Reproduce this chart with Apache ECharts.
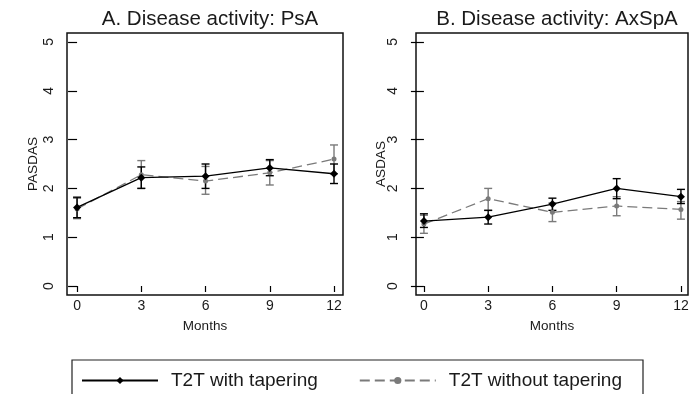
<!DOCTYPE html>
<html>
<head>
<meta charset="utf-8">
<script src="https://cdn.jsdelivr.net/npm/echarts@6/dist/echarts.min.js"></script>
<style>
  html, body { margin: 0; padding: 0; background: #fff; }
  #chart { width: 692px; height: 394px; }
</style>
</head>
<body>
<div id="chart"></div>
<script>
// Follow-up visits (months)
const months = [0, 3, 6, 9, 12];
const xTicks = [0, 3, 6, 9, 12];
const yTicks = [0, 1, 2, 3, 4, 5];

// Panel A: PASDAS (PsA)
const psaWith      = [1.61, 2.22, 2.25, 2.42, 2.30];
const psaWithLo    = [1.40, 2.00, 2.00, 2.26, 2.10];
const psaWithHi    = [1.82, 2.44, 2.50, 2.59, 2.50];
const psaWithout   = [1.58, 2.28, 2.15, 2.32, 2.60];
const psaWithoutLo = [1.38, 2.00, 1.88, 2.07, 2.30];
const psaWithoutHi = [1.80, 2.57, 2.45, 2.57, 2.89];

// Panel B: ASDAS (AxSpA)
const axWith      = [1.33, 1.41, 1.68, 2.00, 1.83];
const axWithLo    = [1.20, 1.27, 1.55, 1.79, 1.69];
const axWithHi    = [1.48, 1.55, 1.80, 2.20, 1.98];
const axWithout   = [1.27, 1.79, 1.51, 1.64, 1.57];
const axWithoutLo = [1.08, 1.55, 1.32, 1.44, 1.37];
const axWithoutHi = [1.45, 2.00, 1.70, 1.83, 1.73];

const seriesNames = ['T2T with tapering', 'T2T without tapering'];
const titles = ['A. Disease activity: PsA', 'B. Disease activity: AxSpA'];
const yNames = ['PASDAS', 'ASDAS'];
const xName = 'Months';

const FONT = '"Liberation Sans", Arial, sans-serif';
const TXT = '#1a1a1a';
const BLACK = '#000000';
const GREY = '#7a7a7a';

function pairs(y) { return months.map((m, i) => [m, y[i]]); }
function bars(lo, hi) { return months.map((m, i) => [m, lo[i], hi[i]]); }

// Vertical error bar with caps, positioned via the axis scales
function errorBarSeries(idx, data, color, z) {
  return {
    type: 'custom',
    xAxisIndex: idx, yAxisIndex: idx,
    z: z,
    silent: true,
    data: data,
    encode: { x: 0, y: [1, 2] },
    renderItem: function (params, api) {
      const x = api.value(0);
      const lo = api.coord([x, api.value(1)]);
      const hi = api.coord([x, api.value(2)]);
      const hw = 4;
      const st = { stroke: color, lineWidth: 1.4, fill: null };
      return {
        type: 'group',
        children: [
          { type: 'line', shape: { x1: lo[0], y1: lo[1], x2: hi[0], y2: hi[1] }, style: st },
          { type: 'line', shape: { x1: lo[0] - hw, y1: lo[1], x2: lo[0] + hw, y2: lo[1] }, style: st },
          { type: 'line', shape: { x1: hi[0] - hw, y1: hi[1], x2: hi[0] + hw, y2: hi[1] }, style: st }
        ]
      };
    }
  };
}

function lineWith(idx, y) {
  return {
    name: seriesNames[0], type: 'line', xAxisIndex: idx, yAxisIndex: idx,
    data: pairs(y), z: 4,
    symbol: 'diamond', symbolSize: 8, showSymbol: true,
    itemStyle: { color: BLACK },
    lineStyle: { color: BLACK, width: 1.3, type: 'solid' },
    animation: false
  };
}
function lineWithout(idx, y) {
  return {
    name: seriesNames[1], type: 'line', xAxisIndex: idx, yAxisIndex: idx,
    data: pairs(y), z: 3,
    symbol: 'circle', symbolSize: 5, showSymbol: true,
    itemStyle: { color: GREY },
    lineStyle: { color: GREY, width: 1.3, type: [10, 5] },
    animation: false
  };
}

const grids = [
  { left: 67, top: 33, width: 276, height: 262 },
  { left: 416, top: 33, width: 272, height: 262 }
];
const xRanges = [[-0.47, 12.42], [-0.37, 12.33]];
const yTickLen = [9, 13];
const yLabelMargin = [11, 16];
const yNameGap = [27, 28];

function xAxisFor(i) {
  return {
    type: 'value', gridIndex: i, min: xRanges[i][0], max: xRanges[i][1],
    name: xName, nameLocation: 'middle', nameGap: 24,
    nameTextStyle: { fontFamily: FONT, fontSize: 13.5, color: TXT },
    axisLine: { show: false },
    splitLine: { show: false },
    axisTick: { show: true, customValues: xTicks, length: 6, inside: false,
                lineStyle: { color: BLACK, width: 1.2 } },
    axisLabel: { customValues: xTicks, margin: 4, fontFamily: FONT, fontSize: 14, color: TXT }
  };
}
function yAxisFor(i) {
  return {
    type: 'value', gridIndex: i, min: -0.184, max: 5.184,
    name: yNames[i], nameLocation: 'middle', nameGap: yNameGap[i], nameRotate: 90,
    nameMoveOverlap: false,
    nameTextStyle: { fontFamily: FONT, fontSize: 13.5, color: TXT },
    axisLine: { show: false },
    splitLine: { show: false },
    axisTick: { show: true, customValues: yTicks, length: yTickLen[i], inside: false,
                lineStyle: { color: BLACK, width: 1.2 } },
    axisLabel: { customValues: yTicks, rotate: 90, margin: yLabelMargin[i],
                 fontFamily: FONT, fontSize: 14, color: TXT }
  };
}

const chart = echarts.init(document.getElementById('chart'), null, { renderer: 'canvas' });

chart.setOption({
  backgroundColor: '#ffffff',
  animation: false,
  title: titles.map((t, i) => ({
    text: t,
    left: grids[i].left + grids[i].width / 2,
    textAlign: 'center',
    top: 4,
    textStyle: { fontFamily: FONT, fontSize: 20.5, fontWeight: 'normal', color: TXT }
  })),
  grid: grids.map(g => Object.assign({ show: true, borderColor: '#111', borderWidth: 1.5,
                                        backgroundColor: '#fff', containLabel: false }, g)),
  xAxis: [xAxisFor(0), xAxisFor(1)],
  yAxis: [yAxisFor(0), yAxisFor(1)],
  legend: {
    data: seriesNames,
    left: 76, top: 366,
    itemWidth: 76, itemHeight: 9, itemGap: 41,
    textStyle: { fontFamily: FONT, fontSize: 19, color: TXT, padding: [0, 0, 0, 8] },
    selectedMode: false
  },
  graphic: [{
    type: 'rect', silent: true, z: -1,
    shape: { x: 72, y: 360, width: 571, height: 60 },
    style: { fill: '#fff', stroke: '#222', lineWidth: 1.2 }
  }],
  series: [
    errorBarSeries(0, bars(psaWithoutLo, psaWithoutHi), GREY, 2),
    errorBarSeries(0, bars(psaWithLo, psaWithHi), BLACK, 3),
    lineWithout(0, psaWithout),
    lineWith(0, psaWith),
    errorBarSeries(1, bars(axWithoutLo, axWithoutHi), GREY, 2),
    errorBarSeries(1, bars(axWithLo, axWithHi), BLACK, 3),
    lineWithout(1, axWithout),
    lineWith(1, axWith)
  ]
});
</script>
</body>
</html>
